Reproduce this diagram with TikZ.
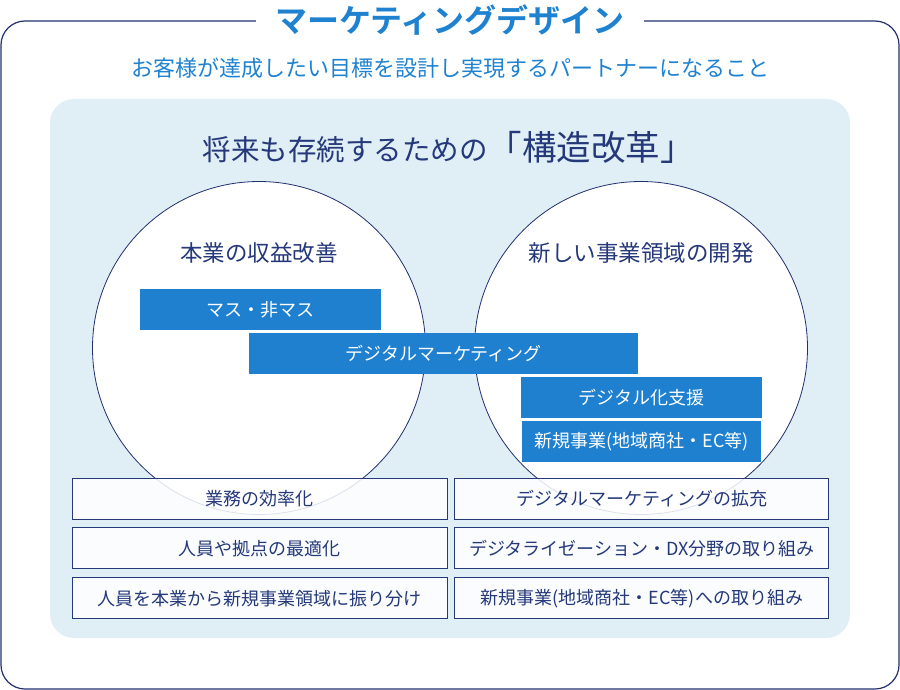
\documentclass[tikz,border=0pt]{standalone}
\usepackage{fontspec}
\setmainfont{Noto Sans CJK JP}[BoldFont={Noto Sans CJK JP Bold}]
\usepackage{xcolor}
\usetikzlibrary{positioning}

\definecolor{framenavy}{HTML}{22306E}
\definecolor{textnavy}{HTML}{25397A}
\definecolor{barblue}{HTML}{1E80CF}
\definecolor{panelblue}{HTML}{E0EEF6}
\definecolor{titleblue}{HTML}{1E82D0}

\newcommand{\fs}[1]{\fontsize{#1}{#1}\selectfont}

\tikzset{
  framebox/.style={
    draw=framenavy, line width=1.2pt, rounded corners=24pt
  },
  panelbox/.style={
    fill=panelblue, rounded corners=24pt
  },
  ringnode/.style={
    circle, draw=framenavy, fill=white, line width=0.8pt,
    minimum size=333pt, inner sep=0pt
  },
  ringlabel/.style={
    font=\fs{22.5}, text=textnavy
  },
  bluebar/.style={
    fill=barblue, text=white, font=\fs{18},
    minimum height=41pt, inner sep=0pt
  },
  itembox/.style={
    draw=textnavy, fill=white, fill opacity=0.85, text opacity=1,
    line width=0.9pt, text=textnavy, font=\fs{18},
    minimum width=375pt, minimum height=41pt, inner sep=0pt
  },
}

\begin{document}
\begin{tikzpicture}[x=1pt, y=-1pt, node distance=8pt and 7pt]
  \useasboundingbox (0,0) rectangle (900,690);

  % outer frame and title
  \draw[framebox] (1,21) rectangle (899,689);
  \node[fill=white, minimum width=388pt, inner ysep=2pt, text=titleblue,
        font=\fs{32}\bfseries] (title) at (450,20) {マーケティングデザイン};
  \node[text=titleblue, font=\fs{22}] (sub) at (450.5,68)
    {お客様が達成したい目標を設計し実現するパートナーになること};

  % light blue panel
  \fill[panelbox] (50,99) rectangle (850,638);
  \node[text=textnavy] (head) at (448.5,147)
    {\fs{28.5}将来も存続するための\fs{34.5}「構造改革」};

  % two circles
  \node[ringnode] (left) at (259,348) {};
  \node[ringnode] (right) at (641,348) {};
  \node[ringlabel] (leftlbl) at (259,253) {本業の収益改善};
  \node[ringlabel] (rightlbl) at (641,253) {新しい事業領域の開発};

  % blue bars
  \node[bluebar, minimum width=241pt] (mass) at (260.5,309.5) {マス・非マス};
  \node[bluebar, minimum width=389pt] (digimk) at (443.5,353.5) {デジタルマーケティング};
  \node[bluebar, minimum width=241pt] (support) at (641.5,397.5) {デジタル化支援};
  \node[bluebar, minimum width=239pt, below=3pt of support] (newbiz) {新規事業(地域商社・EC等)};

  % measures
  \node[itembox] (l1) at (259.5,498.5) {業務の効率化};
  \node[itembox, below=of l1] (l2) {人員や拠点の最適化};
  \node[itembox, below=of l2] (l3) {人員を本業から新規事業領域に振り分け};
  \node[itembox, minimum width=374pt, right=of l1] (r1) {デジタルマーケティングの拡充};
  \node[itembox, minimum width=374pt, below=of r1] (r2) {デジタライゼーション・DX分野の取り組み};
  \node[itembox, minimum width=374pt, below=of r2] (r3) {新規事業(地域商社・EC等)への取り組み};
\end{tikzpicture}
\end{document}
